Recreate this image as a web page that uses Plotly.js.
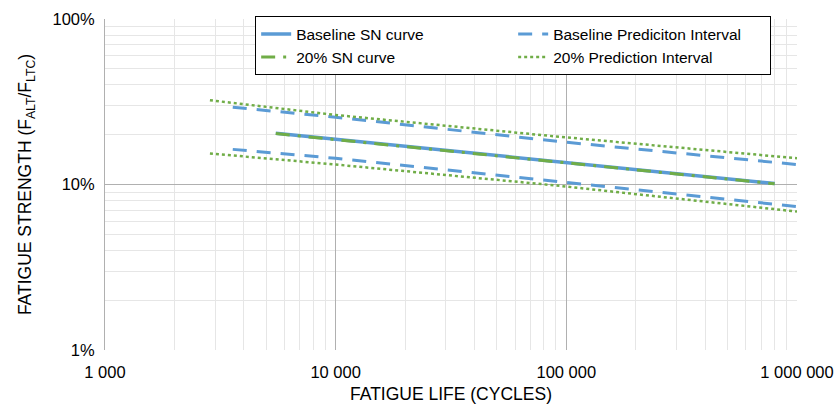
<!DOCTYPE html>
<html>
<head>
<meta charset="utf-8">
<script src="https://cdn.plot.ly/plotly-3.0.1.min.js"></script>
<style>html,body{margin:0;padding:0;background:#fff;}#chart{width:840px;height:412px;}</style>
</head>
<body>
<div id="chart"></div>
<script>
// Data
const snCycles = [5500, 800000];
const baselineSN = [0.204, 0.1014];
const pct20SN = [0.203, 0.1010];

const basePICycles = [3580, 10000, 100000, 1000000];
const basePIUpper = [0.293, 0.255, 0.180, 0.132];
const basePILower = [0.163, 0.144, 0.1028, 0.0736];

const pi20Cycles = [2850, 10000, 90600, 1000000];
const pi20Upper = [0.323, 0.263, 0.195, 0.144];
const pi20Lower = [0.154, 0.132, 0.0986, 0.0686];

const xTickVals = [1000, 10000, 100000, 1000000];
const xTickText = ['1 000', '10 000', '100 000', '1 000 000'];
const yTickVals = [0.01, 0.1, 1];
const yTickText = ['1%', '10%', '100%'];

const blue = '#5B9BD5';
const green = '#70AD47';

const xMinor = [], yMinor = [];
for (let d = 1000; d < 1000000; d *= 10) for (let k = 2; k <= 9; k++) xMinor.push(d * k);
for (let d = 0.01; d < 0.99; d *= 10) for (let k = 2; k <= 9; k++) yMinor.push(d * k);

const traces = [
  {x: snCycles, y: baselineSN, name: 'Baseline SN curve', mode: 'lines',
   line: {color: blue, width: 3.5}},
  {x: basePICycles, y: basePIUpper, name: 'Baseline Prediciton Interval', mode: 'lines',
   line: {color: blue, width: 3, dash: '14px,10px'}, legendgroup: 'bpi'},
  {x: snCycles, y: pct20SN, name: '20% SN curve', mode: 'lines',
   line: {color: green, width: 3, dash: '14px,8px,3px,8px'}},
  {x: pi20Cycles, y: pi20Upper, name: '20% Prediction Interval', mode: 'lines',
   line: {color: green, width: 2.5, dash: 'dot'}, legendgroup: 'gpi'},
  {x: basePICycles, y: basePILower, name: 'Baseline Prediciton Interval', mode: 'lines',
   line: {color: blue, width: 3, dash: '14px,10px'}, legendgroup: 'bpi', showlegend: false},
  {x: pi20Cycles, y: pi20Lower, name: '20% Prediction Interval', mode: 'lines',
   line: {color: green, width: 2.5, dash: 'dot'}, legendgroup: 'gpi', showlegend: false}
];

const layout = {
  width: 840, height: 412,
  margin: {l: 105, r: 43, t: 19, b: 62},
  paper_bgcolor: '#fff', plot_bgcolor: '#fff',
  font: {family: 'Liberation Sans, Arial, sans-serif', color: '#000', size: 16},
  showlegend: true,
  legend: {
    orientation: 'h', x: 0.217, y: 1.008, xanchor: 'left', yanchor: 'top',
    bordercolor: '#000', borderwidth: 1, bgcolor: '#fff',
    font: {size: 15.5, color: '#000'}, entrywidth: 212, traceorder: 'normal',
    tracegroupgap: 0
  },
  xaxis: {
    type: 'log', range: [3, 6], tickvals: xTickVals, ticktext: xTickText,
    showgrid: true, gridcolor: '#b0b0b0', gridwidth: 1, zeroline: false,
    showline: false, ticks: '', tickfont: {size: 16.5}, ticklabelstandoff: 10,
    minor: {tickvals: xMinor, showgrid: true, gridcolor: '#e6e6e6', ticks: ''},
    title: {text: 'FATIGUE LIFE (CYCLES)', font: {size: 17.5}, standoff: 8}
  },
  yaxis: {
    type: 'log', range: [-2, 0], tickvals: yTickVals, ticktext: yTickText,
    showgrid: true, gridcolor: '#b0b0b0', gridwidth: 1, zeroline: false,
    showline: true, linecolor: '#b0b0b0', ticks: '', tickfont: {size: 16.5}, ticklabelstandoff: 6,
    minor: {tickvals: yMinor, showgrid: true, gridcolor: '#e6e6e6', ticks: ''},
    title: {text: 'FATIGUE STRENGTH (F<sub>ALT</sub>/F<sub>LTC</sub>)', font: {size: 17.5}, standoff: 16}
  }
};

Plotly.newPlot('chart', traces, layout, {displayModeBar: false, staticPlot: true});
</script>
</body>
</html>
